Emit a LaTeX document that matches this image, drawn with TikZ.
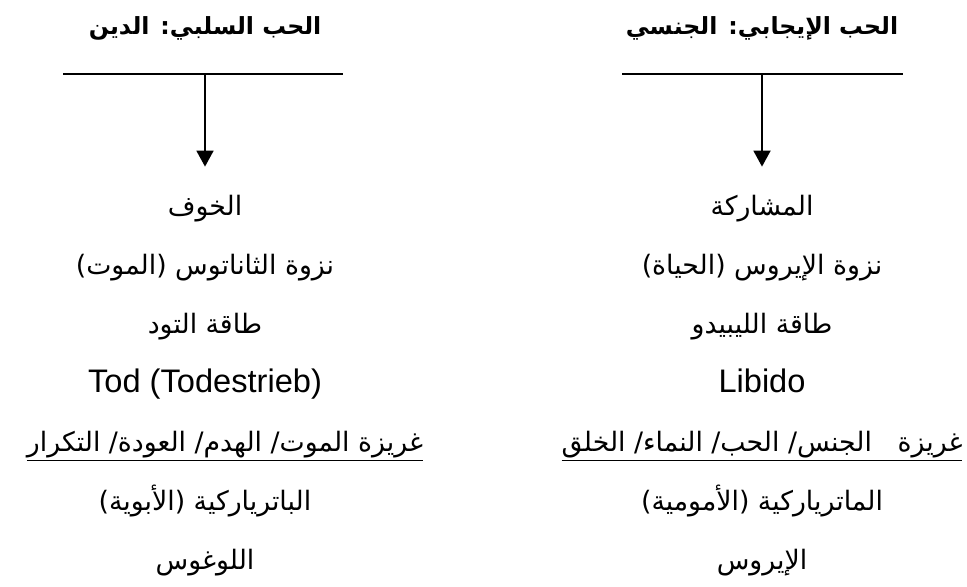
\documentclass[tikz,border=0pt]{standalone}
\usepackage{fontspec}
\setmainfont{Liberation Sans}
\newfontfamily\arabicfont[Script=Arabic, Scale=0.82]{DejaVu Sans}
\TeXXeTstate=1
\usepackage{tikz}
\usetikzlibrary{positioning, arrows.meta}
\newcommand{\artxt}[1]{{\arabicfont\beginR #1\endR}}

\begin{document}
\begin{tikzpicture}[
            x=0.5pt, y=-0.5pt,
            node distance=29.5pt, on grid,
            every node/.style={font=\fontsize{16.3}{19}\selectfont, inner sep=0pt},
            % Estilos
            titulo/.style={font=\fontsize{14.4}{17}\selectfont\bfseries},
            fila/.style={text height=11pt, text depth=4pt},
            linea/.style={line width=1.2pt},
            arrow/.style={line width=0.9pt, -{Triangle[width=8.5pt, length=8pt]}, shorten >=13pt}
        ]
            \useasboundingbox (0,0) rectangle (967,586);

            % Columna izquierda: el amor negativo
            \node (negtitle) [titulo] at (205,28) {\artxt{الحب السلبي: الدين}};
            \coordinate (negleft) at (63,74);
            \coordinate (negright) at (343,74);
            \coordinate (negtop) at (205,74);
            \node (negfear) [fila] at (205,208) {\artxt{الخوف}};
            \node (negdrive) [fila, below=of negfear] {\artxt{نزوة الثاناتوس (الموت)}};
            \node (negenergy) [fila, below=of negdrive] {\artxt{طاقة التود}};
            \node (neglatin) [fila, below=of negenergy] {Tod (Todestrieb)};
            \node (neginstinct) [fila, below=of neglatin, xshift=10pt] {\underline{\artxt{غريزة الموت/ الهدم/ العودة/ التكرار}}};
            \node (negarchy) [fila, below=of neglatin, yshift=-29.5pt] {\artxt{الباترياركية (الأبوية)}};
            \node (neglogos) [fila, below=of negarchy] {\artxt{اللوغوس}};

            % Columna derecha: el amor positivo
            \node (postitle) [titulo] at (762,28) {\artxt{الحب الإيجابي: الجنسي}};
            \coordinate (posleft) at (622,74);
            \coordinate (posright) at (903,74);
            \coordinate (postop) at (762,74);
            \node (posshare) [fila] at (762,208) {\artxt{المشاركة}};
            \node (posdrive) [fila, below=of posshare] {\artxt{نزوة الإيروس (الحياة)}};
            \node (posenergy) [fila, below=of posdrive] {\artxt{طاقة الليبيدو}};
            \node (poslatin) [fila, below=of posenergy] {Libido};
            \node (posinstinct) [fila, below=of poslatin] {\underline{\artxt{غريزة\ \ \ الجنس/ الحب/ النماء/ الخلق}}};
            \node (posarchy) [fila, below=of posinstinct] {\artxt{الماترياركية (الأمومية)}};
            \node (poseros) [fila, below=of posarchy] {\artxt{الإيروس}};

            % Lineas y flechas
            \draw [linea] (negleft) -- (negright);
            \draw [linea] (posleft) -- (posright);
            \draw [arrow] (negtop) -- (negfear.north);
            \draw [arrow] (postop) -- (posshare.north);
        \end{tikzpicture}
\end{document}
